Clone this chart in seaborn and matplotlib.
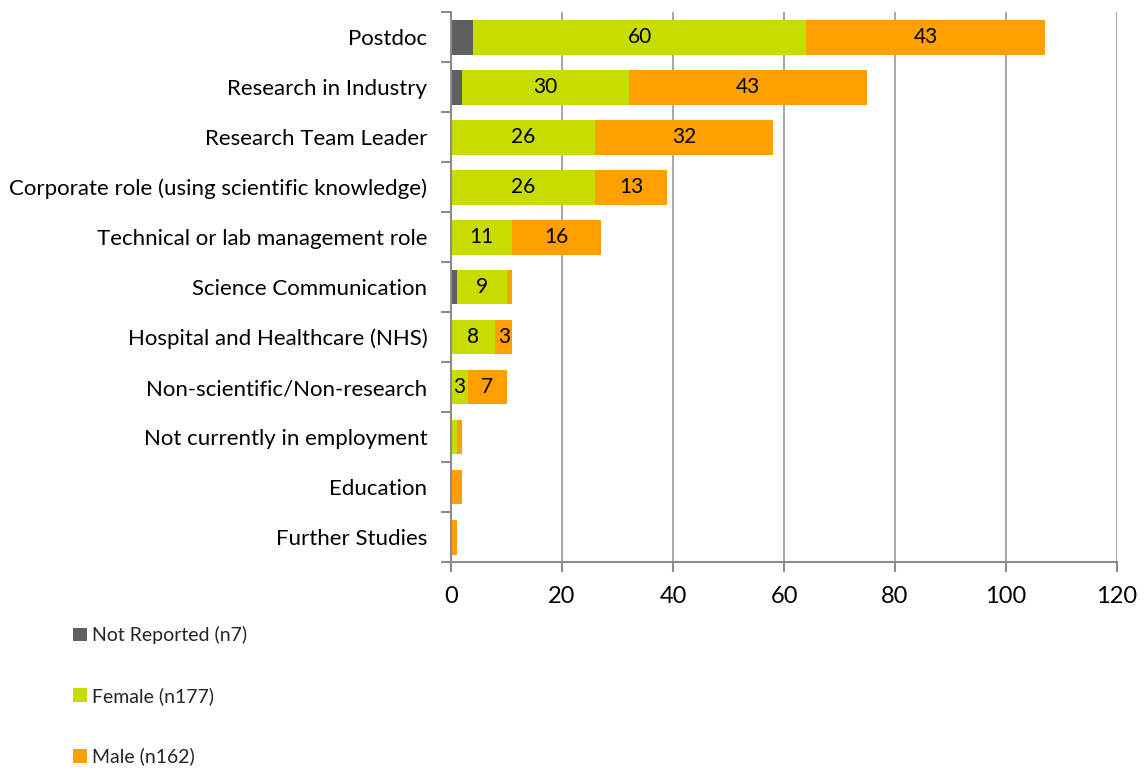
import matplotlib
matplotlib.use("Agg")
import matplotlib.pyplot as plt
from matplotlib.patches import Patch
import seaborn as sns
import pandas as pd
import numpy as np

# data
roles = ['Postdoc', 'Research in Industry', 'Research Team Leader',
         'Corporate role (using scientific knowledge)', 'Technical or lab management role',
         'Science Communication', 'Hospital and Healthcare (NHS)', 'Non-scientific/Non-research',
         'Not currently in employment', 'Education', 'Further Studies']
not_reported = [4, 2, 0, 0, 0, 1, 0, 0, 0, 0, 0]
female = [60, 30, 26, 26, 11, 9, 8, 3, 1, 0, 0]
male = [43, 43, 32, 13, 16, 1, 3, 7, 1, 2, 1]
series = ['Not Reported (n7)', 'Female (n177)', 'Male (n162)']
colors = ['#5f5f5f', '#c8dc00', '#ffa000']
x_ticks = [0, 20, 40, 60, 80, 100, 120]

sns.set_theme(style='white')
plt.rcParams['font.family'] = ['Lato', 'DejaVu Sans']

df = pd.DataFrame({'role': roles, 'nr': not_reported, 'f': female, 'm': male})
df['nr_f'] = df['nr'] + df['f']
df['total'] = df['nr_f'] + df['m']

fig = plt.figure(figsize=(11.47, 7.72), dpi=100)
ax = fig.add_axes([451 / 1147, 1 - 562 / 772, 666 / 1147, 550 / 772])

# stacked bars: draw cumulative totals, largest first
for col, c in [('total', colors[2]), ('nr_f', colors[1]), ('nr', colors[0])]:
    sns.barplot(data=df, y='role', x=col, color=c, orient='h', width=0.7,
                saturation=1, errorbar=None, linewidth=0, ax=ax)

# value labels in the middle of each segment (only the bigger ones, like the original)
for i, row in df.iterrows():
    if row['f'] >= 3:
        ax.text(row['nr'] + row['f'] / 2, i, str(row['f']), ha='center', va='center',
                fontsize=15, color='black')
    if row['m'] >= 3:
        ax.text(row['nr_f'] + row['m'] / 2, i, str(row['m']), ha='center', va='center',
                fontsize=15, color='black')

ax.set_xlim(0, 120)
ax.set_ylim(len(roles) - 0.5, -0.5)
ax.set_xticks(x_ticks)
ax.set_xlabel('')
ax.set_ylabel('')
ax.set_axisbelow(True)
ax.xaxis.grid(True, color='#a0a0a0', linewidth=1.3)
ax.yaxis.grid(False)

for s in ['top', 'right']:
    ax.spines[s].set_visible(False)
for s in ['left', 'bottom']:
    ax.spines[s].set_color('#8c8c8c')
    ax.spines[s].set_linewidth(1.5)

# excel style tick marks between categories
ax.set_yticks(np.arange(-0.5, len(roles), 1), minor=True)
ax.tick_params(axis='y', which='major', length=0, pad=17, labelsize=16, labelcolor='black')
ax.tick_params(axis='y', which='minor', left=True, length=7, width=1.5, color='#8c8c8c')
ax.tick_params(axis='x', which='major', bottom=True, length=7, width=1.5, color='#8c8c8c',
               labelsize=17, pad=10, labelcolor='black')

handles = [Patch(facecolor=c, edgecolor='none') for c in colors]
fig.legend(handles, series, loc='upper left', bbox_to_anchor=(0.048, 0.2115), frameon=False,
           fontsize=14, handlelength=0.72, handleheight=0.72, handletextpad=0.3,
           labelspacing=2.2)

fig.savefig('out.png', dpi=100)
